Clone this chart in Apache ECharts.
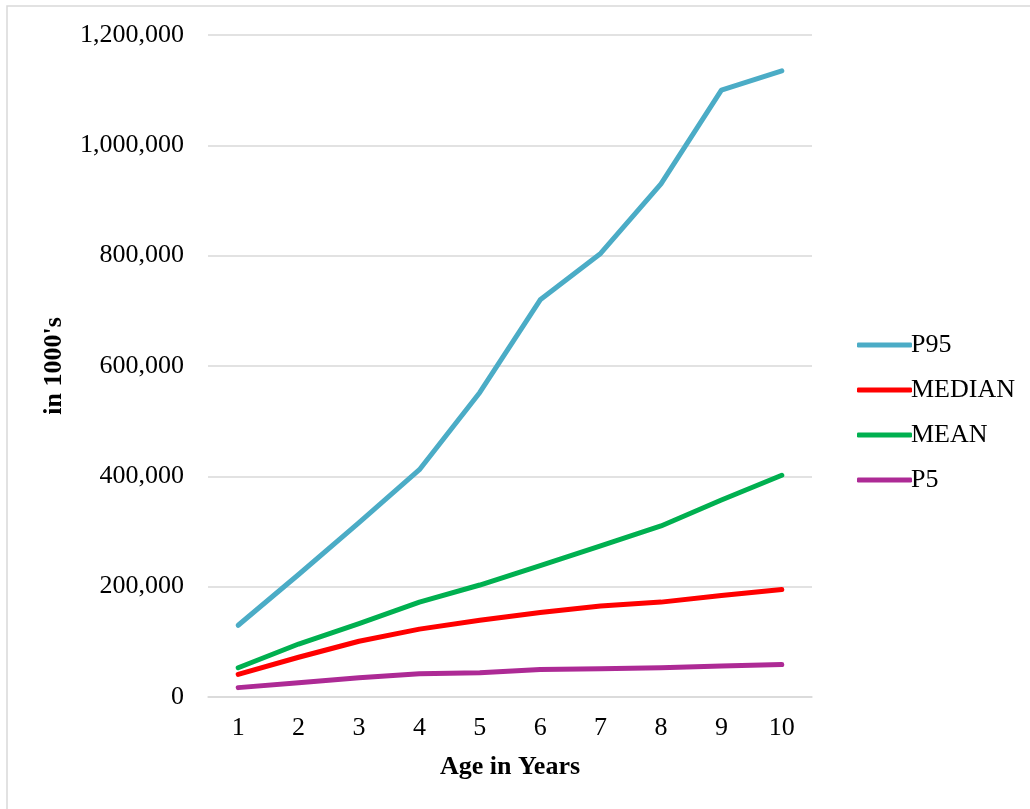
<!DOCTYPE html>
<html>
<head>
<meta charset="utf-8">
<script src="https://cdn.jsdelivr.net/npm/echarts@6/dist/echarts.min.js"></script>
<style>
html,body{margin:0;padding:0;background:#fff;}
#chart{width:1030px;height:809px;}
</style>
</head>
<body>
<div id="chart"></div>
<script>
const categories = ['1','2','3','4','5','6','7','8','9','10'];
const p95 = [130000, 222000, 316000, 412000, 552000, 720000, 804000, 930000, 1100000, 1135000];
const median = [41000, 72000, 101000, 123000, 139000, 153000, 165000, 172000, 184000, 195000];
const mean = [53000, 96000, 133000, 172000, 203000, 238000, 274000, 310000, 357000, 402000];
const p5 = [17000, 26000, 35000, 42000, 44000, 50000, 51000, 53000, 56000, 59000];
const seriesNames = ['P95', 'MEDIAN', 'MEAN', 'P5'];
const seriesColors = ['#4BACC6', '#FF0000', '#00B050', '#AD2A95'];
const seriesData = [p95, median, mean, p5];

const font = 'Liberation Serif';
const chart = echarts.init(document.getElementById('chart'), null, {renderer: 'canvas'});
chart.setOption({
  animation: false,
  backgroundColor: '#ffffff',
  graphic: [{
    type: 'rect',
    shape: {x: 7, y: 6, width: 1100, height: 900},
    style: {fill: 'none', stroke: '#D9D9D9', lineWidth: 1.5},
    silent: true
  }],
  grid: {left: 208, right: 218, top: 35, bottom: 112, containLabel: false},
  legend: {
    orient: 'vertical',
    left: 852,
    top: 327,
    itemWidth: 55,
    itemHeight: 5,
    itemGap: 19,
    icon: 'roundRect',
    data: seriesNames,
    textStyle: {fontFamily: font, fontSize: 26, color: '#000', padding: [0, 0, 0, -6]}
  },
  xAxis: {
    type: 'category',
    data: categories,
    boundaryGap: true,
    name: 'Age in Years',
    nameLocation: 'middle',
    nameGap: 57,
    nameTextStyle: {fontFamily: font, fontSize: 26, fontWeight: 'bold', color: '#000'},
    axisLine: {show: true, lineStyle: {color: '#D9D9D9', width: 1.5}},
    axisTick: {show: false},
    axisLabel: {fontFamily: font, fontSize: 26, color: '#000', margin: 18}
  },
  yAxis: {
    type: 'value',
    min: 0,
    max: 1200000,
    interval: 200000,
    name: "in 1000's",
    nameLocation: 'middle',
    nameGap: 141,
    nameTextStyle: {fontFamily: font, fontSize: 26, fontWeight: 'bold', color: '#000'},
    axisLine: {show: false},
    axisTick: {show: false},
    splitLine: {show: true, lineStyle: {color: '#D9D9D9', width: 1.5}},
    axisLabel: {
      fontFamily: font, fontSize: 26, color: '#000', margin: 24,
      formatter: v => v.toLocaleString('en-US')
    }
  },
  series: seriesNames.map((n, i) => ({
    name: n,
    type: 'line',
    data: seriesData[i],
    symbol: 'none',
    color: seriesColors[i],
    lineStyle: {color: seriesColors[i], width: 5, cap: 'round', join: 'round'},
    z: 10 - i
  }))
});
</script>
</body>
</html>
